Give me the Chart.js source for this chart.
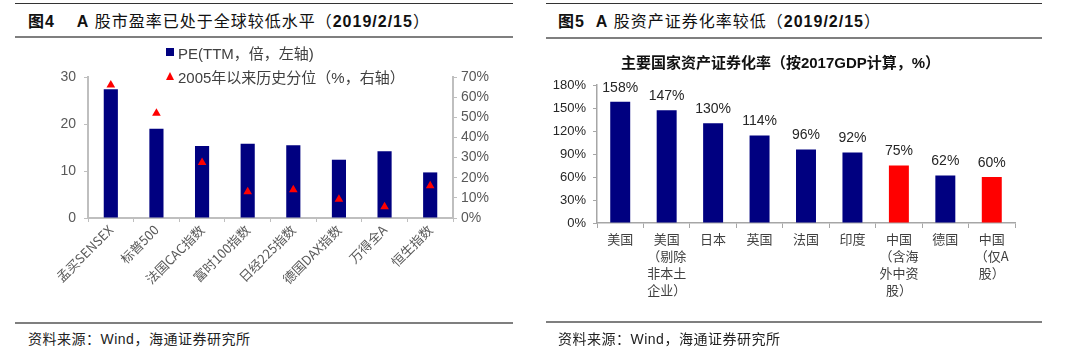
<!DOCTYPE html>
<html><head><meta charset="utf-8">
<script src="https://cdn.jsdelivr.net/npm/chart.js@4.4.1/dist/chart.umd.min.js"></script>
<style>
html,body{margin:0;padding:0;background:#fff;width:1080px;height:360px;overflow:hidden;font-family:"Liberation Sans","Noto Sans CJK SC",sans-serif;}
.abs{position:absolute;}
.line{position:absolute;height:0;}
.title{position:absolute;font-size:16px;color:#111;letter-spacing:1px;white-space:nowrap;font-family:"Liberation Sans","Noto Sans CJK SC",sans-serif;}
.title b{font-weight:bold;}
.src{position:absolute;font-size:14px;color:#222;white-space:nowrap;letter-spacing:0.5px;font-family:"Liberation Sans","Noto Sans CJK SC",sans-serif;}
.leg{position:absolute;font-size:15px;color:#404040;white-space:nowrap;font-family:"Liberation Sans","Noto Sans CJK SC",sans-serif;}
</style></head>
<body>
<!-- left panel -->
<div class="line" style="left:15px;top:3px;width:498px;border-top:1px solid #333;"></div>
<div class="title" style="left:28px;top:8px;"><b>图4</b>&nbsp;&nbsp;&nbsp;&nbsp;<b>A</b> 股市盈率已处于全球较低水平（<b>2019/2/15</b>）</div>
<div class="line" style="left:15px;top:36px;width:498px;border-top:2px solid #7f7f7f;"></div>
<canvas id="c1" class="abs" width="500" height="282" style="left:15px;top:40px;"></canvas>
<div class="abs" style="left:166px;top:48px;width:8px;height:8px;background:#000080;"></div>
<div class="leg" style="left:178px;top:42px;">PE(TTM，倍，左轴)</div>
<div class="abs" style="left:166px;top:72px;width:0;height:0;border-left:4px solid transparent;border-right:4px solid transparent;border-bottom:8px solid #ff0000;"></div>
<div class="leg" style="left:178px;top:66px;">2005年以来历史分位（%，右轴）</div>
<div class="line" style="left:15px;top:322px;width:498px;border-top:2px solid #7f7f7f;"></div>
<div class="src" style="left:28px;top:328px;">资料来源：Wind，海通证券研究所</div>

<!-- right panel -->
<div class="line" style="left:546px;top:3px;width:496px;border-top:1px solid #333;"></div>
<div class="title" style="left:558px;top:8px;"><b>图5</b>&nbsp;&nbsp;<b>A</b> 股资产证券化率较低（<b>2019/2/15</b>）</div>
<div class="line" style="left:546px;top:37px;width:496px;border-top:2px solid #7f7f7f;"></div>
<canvas id="c2" class="abs" width="496" height="282" style="left:546px;top:40px;"></canvas>
<div class="line" style="left:546px;top:321px;width:496px;border-top:2px solid #7f7f7f;"></div>
<div class="src" style="left:558px;top:328px;">资料来源：Wind，海通证券研究所</div>

<script>
// ---- data: figure 4 ----
const peCategories = ['孟买SENSEX','标普500','法国CAC指数','富时100指数','日经225指数','德国DAX指数','万得全A','恒生指数'];
const peValues = [27.4, 19.0, 15.3, 15.8, 15.5, 12.4, 14.2, 9.7];
const pePercentile = [66, 52, 27.5, 13, 14, 9.3, 5.6, 16];
const peLeftTicks = [0, 10, 20, 30];
const peRightTicks = [0, 10, 20, 30, 40, 50, 60, 70];

// ---- data: figure 5 ----
const secCategories = [['美国'], ['美国','（剔除','非本土','企业）'], ['日本'], ['英国'], ['法国'], ['印度'], ['中国','（含海','外中资','股）'], ['德国'], ['中国','（仅A','股）']];
const secValues = [158, 147, 130, 114, 96, 92, 75, 62, 60];
const secHighlight = [false, false, false, false, false, false, true, false, true];
const secTicks = [0, 30, 60, 90, 120, 150, 180];

const NAVY = '#000080', RED = '#ff0000', AX = '#bfbfbf';
const numFont = '"Liberation Sans","Noto Sans CJK SC",sans-serif';

Chart.defaults.animation = false;
Chart.defaults.font.family = numFont;

// ---- Chart 1 ----
new Chart(document.getElementById('c1'), {
  data: {
    labels: peCategories,
    datasets: [
      {type:'bar', label:'PE(TTM，倍，左轴)', data: peValues, backgroundColor: NAVY, yAxisID:'y', categoryPercentage:1, barPercentage:0.31, order:2},
      {type:'line', label:'2005年以来历史分位（%，右轴）', data: pePercentile, yAxisID:'y1', showLine:false,
       pointStyle:'triangle', pointRadius:5, backgroundColor: RED, borderColor: RED, borderWidth:0, order:1}
    ]
  },
  options: {
    responsive:false,
    layout:{padding:{top:37, left:0, right:0, bottom:0}},
    plugins:{legend:{display:false}, tooltip:{enabled:false}},
    scales:{
      x:{
        grid:{display:true, drawOnChartArea:false, drawTicks:true, tickLength:4, color:AX, offset:true},
        border:{color:AX, width:2},
        ticks:{color:'#595959', font:{size:13, family:'"Noto Sans CJK SC","Liberation Sans",sans-serif'}, maxRotation:45, minRotation:45, autoSkip:false, padding:0},
        afterFit(s){ s.height = 104; }
      },
      y:{
        position:'left', min:0, max:30,
        afterBuildTicks(s){ s.ticks = peLeftTicks.map(v=>({value:v})); },
        grid:{display:true, drawOnChartArea:false, drawTicks:true, tickLength:4, color:AX},
        border:{color:AX, width:2},
        ticks:{color:'#595959', font:{size:14}, padding:8},
        afterFit(s){ s.width = 73; }
      },
      y1:{
        position:'right', min:0, max:70,
        afterBuildTicks(s){ s.ticks = peRightTicks.map(v=>({value:v})); },
        grid:{display:true, drawOnChartArea:false, drawTicks:true, tickLength:4, color:AX},
        border:{color:AX, width:2},
        ticks:{color:'#595959', font:{size:14}, padding:4, callback:v=>v+'%'},
        afterFit(s){ s.width = 62; }
      }
    }
  }
});

// ---- Chart 2 ----
const barLabels = {
  id:'barLabels',
  afterDatasetsDraw(chart){
    const ctx = chart.ctx;
    const meta = chart.getDatasetMeta(0);
    ctx.save();
    ctx.font = '14px ' + numFont;
    ctx.fillStyle = '#262626';
    ctx.textAlign = 'center';
    ctx.textBaseline = 'bottom';
    meta.data.forEach((bar,i)=>{
      ctx.fillText(secValues[i] + '%', bar.x, bar.y - 7);
    });
    ctx.restore();
  }
};

new Chart(document.getElementById('c2'), {
  type:'bar',
  data:{
    labels: secCategories,
    datasets:[{label:'资产证券化率', data: secValues,
      backgroundColor: secHighlight.map(h=>h?RED:NAVY), categoryPercentage:1, barPercentage:0.43}]
  },
  options:{
    responsive:false,
    layout:{padding:{top:0, left:0, right:27, bottom:0}},
    plugins:{
      legend:{display:false}, tooltip:{enabled:false},
      title:{display:true, text:'主要国家资产证券化率（按2017GDP计算，%）', color:'#111',
        font:{size:15, weight:'bold', family:'"Liberation Sans","Noto Sans CJK SC",sans-serif'},
        padding:{top:15, bottom:12}}
    },
    scales:{
      x:{
        grid:{display:true, drawOnChartArea:false, drawTicks:true, tickLength:5, color:'#a6a6a6', offset:true},
        border:{color:'#a6a6a6', width:1.5},
        ticks:{color:'#404040', font:{size:13, lineHeight:1.3, family:'"Noto Sans CJK SC","Liberation Sans",sans-serif'}, maxRotation:0, minRotation:0, autoSkip:false, padding:3},
        afterFit(s){ s.height = 99; }
      },
      y:{
        min:0, max:180,
        afterBuildTicks(s){ s.ticks = secTicks.map(v=>({value:v})); },
        grid:{display:true, drawOnChartArea:false, drawTicks:true, tickLength:4, color:'#a6a6a6'},
        border:{color:'#a6a6a6', width:1.5},
        ticks:{color:'#262626', font:{size:13}, padding:7, callback:v=>v+'%'},
        afterFit(s){ s.width = 51; }
      }
    }
  },
  plugins:[barLabels]
});
</script>
</body></html>
